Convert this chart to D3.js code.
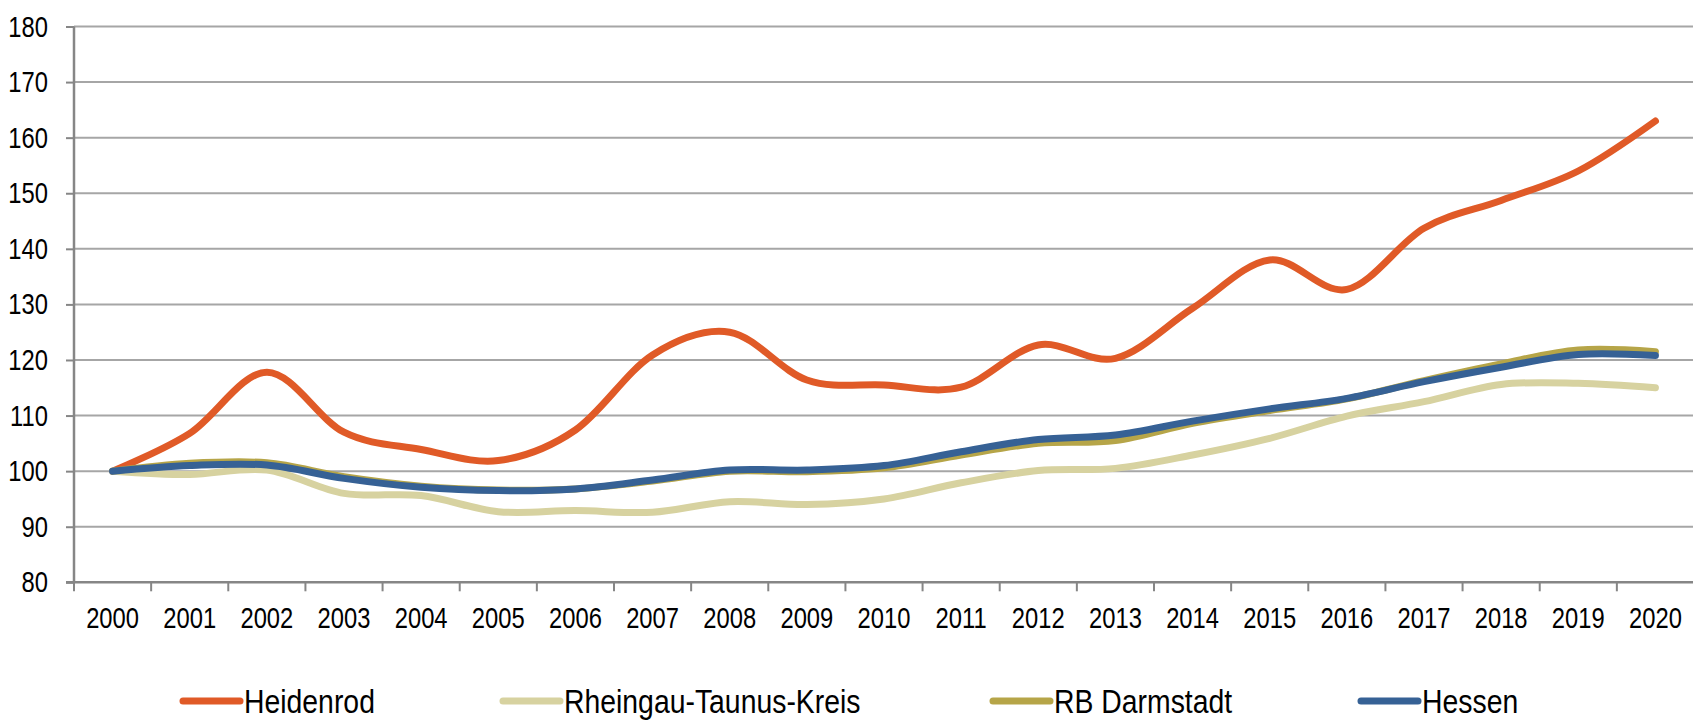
<html lang='de'>
    <head>
        <meta charset='utf-8'>
        <title>Heidenrod Index</title>
        <script src="https://d3js.org/d3.v7.min.js"></script>
        <style>
            body { margin: 0; background: #fff; }
            text { font-family: "Liberation Sans Narrow", "Arial Narrow", "Liberation Sans", Arial, sans-serif; fill: #000; }
        </style>
    </head>
    <body>
        <script>
            var width = 1693;
            var height = 720;
            var narrow = 0.82; // no narrow font installed, squeeze the regular one

            // data (index, 2000 = 100)
            var years = ["2000","2001","2002","2003","2004","2005","2006","2007","2008","2009","2010",
                         "2011","2012","2013","2014","2015","2016","2017","2018","2019","2020"];
            var heidenrod = [100, 106.8, 117.8, 107.0, 103.9, 101.9, 107.4, 120.9, 125.0, 116.4, 115.5,
                             115.1, 122.7, 120.3, 129.3, 138.0, 132.7, 143.7, 148.7, 154.0, 163.0];
            var rheingau = [100, 99.4, 100.2, 96.0, 95.6, 92.7, 92.9, 92.6, 94.5, 94.0, 95.0,
                            97.9, 100.1, 100.5, 102.9, 105.9, 109.9, 112.5, 115.6, 115.8, 115.0];
            var darmstadt = [100, 101.4, 101.5, 99.0, 97.3, 96.6, 96.8, 98.2, 100.0, 99.9, 100.6,
                             102.9, 105.0, 105.5, 108.6, 110.9, 113.0, 116.3, 119.3, 121.8, 121.5];
            var hessen = [100, 101.0, 101.1, 98.7, 97.1, 96.5, 96.8, 98.4, 100.2, 100.2, 101.0,
                          103.5, 105.7, 106.5, 109.0, 111.2, 113.1, 116.1, 118.7, 121.0, 120.8];
            var yTicks = [80, 90, 100, 110, 120, 130, 140, 150, 160, 170, 180];

            var seriesNames = ["Heidenrod", "Rheingau-Taunus-Kreis", "RB Darmstadt", "Hessen"];
            var seriesColors = ["#e05a27", "#d7d2a0", "#b6a548", "#366195"];
            var seriesData = [heidenrod, rheingau, darmstadt, hessen];
            var legendX = [183, 503, 993, 1361];

            var svg = d3.select('body')
                        .append('svg')
                        .attr('width', width)
                        .attr('height', height);

            //scales
            var x = d3.scaleBand()
                      .domain(years)
                      .range([74, 1694])
                      .padding(0);
            var y = d3.scaleLinear()
                      .domain([80, 180])
                      .range([582.3, 26.5]);

            //gridlines
            svg.append('g')
               .selectAll('line')
               .data(yTicks.slice(1))
               .enter()
               .append('line')
               .attr('x1', 74)
               .attr('x2', width)
               .attr('y1', function(d){ return y(d); })
               .attr('y2', function(d){ return y(d); })
               .style('stroke', '#a6a6a6')
               .style('stroke-width', 2);

            //y axis
            var yAxis = svg.append('g')
                           .attr('transform', 'translate(74,0)')
                           .call(d3.axisLeft(y).tickValues(yTicks).tickSize(8).tickFormat(''));
            yAxis.selectAll('line').style('stroke', '#868686').style('stroke-width', 2);
            yAxis.select('.domain').style('stroke', '#868686').style('stroke-width', 2.5)
                 .attr('d', 'M0,' + y(180) + 'V' + y(80));
            svg.append('g')
               .selectAll('text')
               .data(yTicks)
               .enter()
               .append('text')
               .attr('transform', function(d){ return 'translate(48,' + (y(d) + 10) + ') scale(' + narrow + ',1)'; })
               .attr('text-anchor', 'end')
               .style('font-size', '29px')
               .text(function(d){ return d; });

            //x axis, ticks between categories
            var xg = svg.append('g')
                        .attr('transform', 'translate(0,' + y(80) + ')');
            xg.append('line')
              .attr('x1', 66).attr('x2', width)
              .style('stroke', '#868686').style('stroke-width', 2.5);
            xg.selectAll('.tick')
              .data(years.concat(['end']))
              .enter()
              .append('line')
              .attr('x1', function(d, i){ return x.range()[0] + i * x.bandwidth(); })
              .attr('x2', function(d, i){ return x.range()[0] + i * x.bandwidth(); })
              .attr('y1', 0).attr('y2', 9)
              .style('stroke', '#868686').style('stroke-width', 2);
            xg.selectAll('text')
              .data(years)
              .enter()
              .append('text')
              .attr('transform', function(d){ return 'translate(' + (x(d) + x.bandwidth() / 2) + ',46) scale(' + narrow + ',1)'; })
              .attr('text-anchor', 'middle')
              .style('font-size', '29px')
              .text(function(d){ return d; });

            //lines
            var line = d3.line()
                         .x(function(d, i){ return x(years[i]) + x.bandwidth() / 2; })
                         .y(function(d){ return y(d); })
                         .curve(d3.curveCardinal.tension(0));

            svg.append('g')
               .selectAll('path')
               .data(seriesData)
               .enter()
               .append('path')
               .attr('d', line)
               .style('fill', 'none')
               .style('stroke', function(d, i){ return seriesColors[i]; })
               .style('stroke-width', 7)
               .style('stroke-linecap', 'round')
               .style('stroke-linejoin', 'round');

            //legend
            var legend = svg.append('g')
                            .selectAll('g')
                            .data(seriesNames)
                            .enter()
                            .append('g')
                            .attr('transform', function(d, i){ return 'translate(' + legendX[i] + ',701)'; });
            legend.append('line')
                  .attr('x1', 0).attr('x2', 57)
                  .style('stroke', function(d, i){ return seriesColors[i]; })
                  .style('stroke-width', 7)
                  .style('stroke-linecap', 'round');
            legend.append('text')
                  .attr('transform', 'translate(61,12) scale(0.86,1)')
                  .style('font-size', '33px')
                  .text(function(d){ return d; });
        </script>
    </body>
</html>
